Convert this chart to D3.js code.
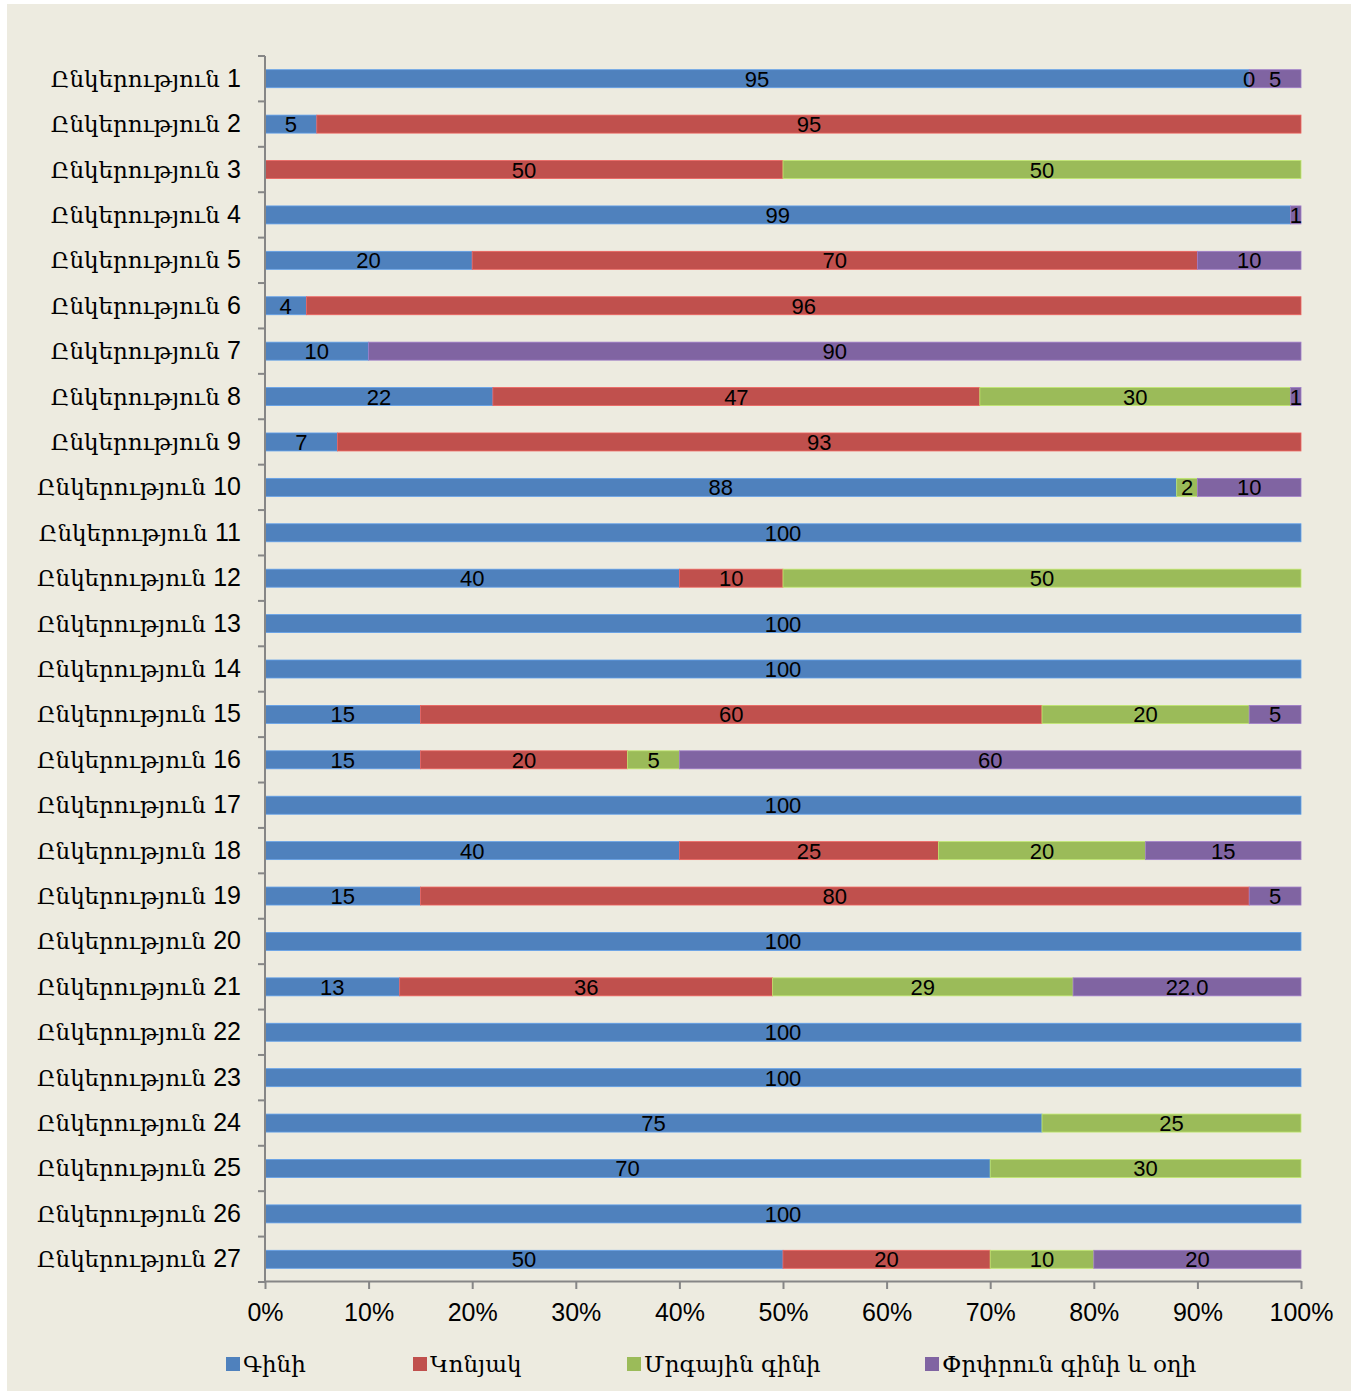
<!DOCTYPE html>
<html>
<head>
<meta charset="utf-8">
<script src="https://cdn.jsdelivr.net/npm/d3@7/dist/d3.min.js"></script>
<style>
  html, body { margin: 0; padding: 0; background: #ffffff; }
  svg { display: block; }
</style>
</head>
<body>
<script>
// Categories (companies) and stacked shares per product type
const categories = d3.range(1, 28).map(i => "Ընկերություն " + i);
const seriesNames = ["Գինի", "Կոնյակ", "Մրգային գինի", "Փրփրուն գինի և օղի"];
const seriesColors = ["#4F81BD", "#C0504D", "#9BBB59", "#8064A2"];

// null = no segment for that company
const wine      = [95, 5, null, 99, 20, 4, 10, 22, 7, 88, 100, 40, 100, 100, 15, 15, 100, 40, 15, 100, 13, 100, 100, 75, 70, 100, 50];
const cognac    = [0, 95, 50, null, 70, 96, null, 47, 93, null, null, 10, null, null, 60, 20, null, 25, 80, null, 36, null, null, null, null, null, 20];
const fruitWine = [null, null, 50, null, null, null, null, 30, null, 2, null, 50, null, null, 20, 5, null, 20, null, null, 29, null, null, 25, 30, null, 10];
const sparkling = [5, null, null, 1, 10, null, 90, 1, null, 10, null, null, null, null, 5, 60, null, 15, 5, null, 22.0, null, null, null, null, null, 20];
// label decimals for values shown with a fractional digit ("row-series")
const labelDecimals = { "20-3": 1 };

const xTicks = d3.range(0, 101, 10);

const series = [wine, cognac, fruitWine, sparkling];

const W = 1356, H = 1394;
const svg = d3.select("body").append("svg").attr("width", W).attr("height", H);

// panel background
svg.append("rect").attr("x", 7).attr("y", 4).attr("width", 1344).attr("height", 1387)
  .attr("fill", "#EDEBE0");

const x = d3.scaleLinear().domain([0, 100]).range([265, 1301]);
const y = d3.scaleBand().domain(categories).range([56, 1282]).padding(0);
const barH = 18;
const labelFont = "'Liberation Sans Narrow', 'Liberation Sans', Arial, sans-serif";
const armFont = "'DejaVu Serif', 'Noto Serif', serif";

// stacked segments
const rows = categories.map((c, i) => {
  const total = d3.sum(series, s => s[i] || 0);
  let acc = 0;
  const segs = [];
  series.forEach((s, k) => {
    const v = s[i];
    if (v === null || v === undefined) return;
    const x0 = acc / total * 100;
    acc += v;
    const x1 = acc / total * 100;
    segs.push({ cat: c, row: i, k, v, x0, x1 });
  });
  return segs;
});
const segs = rows.flat();

const g = svg.append("g");
g.selectAll("rect.seg").data(segs).join("rect")
  .attr("class", "seg")
  .attr("x", d => x(d.x0))
  .attr("width", d => x(d.x1) - x(d.x0))
  .attr("y", d => y(d.cat) + y.bandwidth() / 2 - barH / 2)
  .attr("height", barH)
  .attr("fill", d => seriesColors[d.k])
  .attr("stroke", d => d3.color(seriesColors[d.k]).brighter(0.6))
  .attr("stroke-width", 0.8);

g.selectAll("text.val").data(segs).join("text")
  .attr("class", "val")
  .attr("x", d => x((d.x0 + d.x1) / 2))
  .attr("y", d => y(d.cat) + y.bandwidth() / 2 + 8)
  .attr("text-anchor", "middle")
  .attr("font-family", labelFont)
  .attr("font-size", 22)
  .attr("fill", "#000")
  .text(d => {
    const dec = labelDecimals[d.row + "-" + d.k] || 0;
    return d.v.toFixed(dec);
  });

// y axis: line with ticks between categories
const axisColor = "#868686";
const yAx = svg.append("g");
yAx.append("line").attr("x1", 265).attr("x2", 265).attr("y1", 56).attr("y2", 1282)
  .attr("stroke", axisColor).attr("stroke-width", 2);
const boundaries = categories.map(c => y(c)).concat([y.range()[1]]);
yAx.selectAll("line.tk").data(boundaries).join("line")
  .attr("class", "tk")
  .attr("x1", 258).attr("x2", 265)
  .attr("y1", d => d).attr("y2", d => d)
  .attr("stroke", axisColor).attr("stroke-width", 2);

// category labels: Armenian word in serif, number in sans
const catLab = yAx.selectAll("text.cat").data(categories).join("text")
  .attr("class", "cat")
  .attr("x", 241)
  .attr("y", d => y(d) + y.bandwidth() / 2 + 8)
  .attr("text-anchor", "end")
  .attr("fill", "#000");
catLab.append("tspan").attr("font-family", armFont).attr("font-size", 23)
  .text(d => d.split(" ")[0] + " ");
catLab.append("tspan").attr("font-family", labelFont).attr("font-size", 25)
  .text(d => d.split(" ")[1]);

// x axis
const xAxis = d3.axisBottom(x).tickValues(xTicks).tickFormat(d => d + "%")
  .tickSize(8).tickSizeOuter(0).tickPadding(14);
const xg = svg.append("g").attr("transform", "translate(0,1281)").call(xAxis);
xg.select(".domain").attr("stroke", axisColor).attr("stroke-width", 2);
xg.selectAll(".tick line").attr("stroke", axisColor).attr("stroke-width", 2);
xg.selectAll(".tick text").attr("font-family", labelFont).attr("font-size", 25)
  .attr("fill", "#000");

// legend
const legendX = [226, 413, 627, 925];
const leg = svg.append("g");
const li = leg.selectAll("g").data(seriesNames).join("g")
  .attr("transform", (d, i) => `translate(${legendX[i]},1364)`);
li.append("rect").attr("x", 0).attr("y", -7).attr("width", 14).attr("height", 14)
  .attr("fill", (d, i) => seriesColors[i]);
li.append("text").attr("x", 17).attr("y", 8)
  .attr("font-family", armFont).attr("font-size", 23).attr("fill", "#000")
  .text(d => d);
</script>
</body>
</html>
